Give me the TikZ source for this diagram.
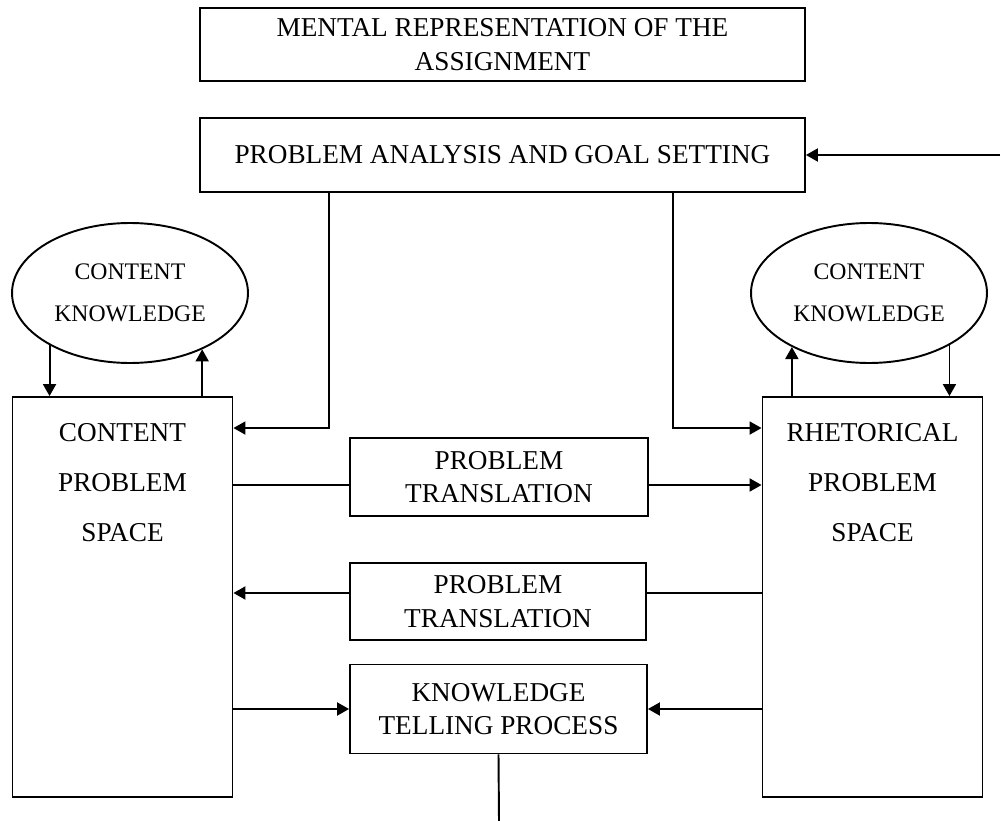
\documentclass[tikz,border=0pt]{standalone}
\usepackage{fontspec}
\setmainfont{Liberation Serif}
\usetikzlibrary{shapes.geometric,arrows.meta,positioning}

\begin{document}
\begin{tikzpicture}[x=0.02cm,y=-0.02cm,
    box/.style={draw,line width=1.1pt,align=center,inner sep=0pt,font=\fontsize{15.5}{19}\selectfont},
    spacebox/.style={draw,line width=1.1pt,minimum width=4.4cm,minimum height=8cm},
    spacetext/.style={align=center,inner sep=0pt,anchor=north,font=\fontsize{15.5}{28.5}\selectfont},
    know/.style={draw,ellipse,line width=1.1pt,minimum width=4.72cm,minimum height=2.8cm,align=center,inner sep=0pt,font=\fontsize{13.5}{24}\selectfont},
    arr/.style={line width=1.1pt,-{Triangle[length=0.24cm,width=0.26cm]}},
    link/.style={line width=1.1pt}]

    \useasboundingbox (0,0) rectangle (1001,821);

    \node[box,minimum width=12.1cm,minimum height=1.46cm] (mental) at (502.5,44.5) {MENTAL REPRESENTATION OF THE\\ASSIGNMENT};
    \node[box,minimum width=12.1cm,minimum height=1.48cm] (analysis) at (502.5,155) {PROBLEM ANALYSIS AND GOAL SETTING};

    \node[know] (ckleft) at (130,293) {CONTENT\\KNOWLEDGE};
    \node[know] (ckright) at (869,293) {CONTENT\\KNOWLEDGE};

    \node[spacebox] (cps) at (122.5,597) {};
    \node[spacetext] (cpstext) at ([yshift=-0.54cm]cps.north) {CONTENT\\PROBLEM\\SPACE};
    \node[spacebox] (rps) at (872.5,597) {};
    \node[spacetext] (rpstext) at ([yshift=-0.54cm]rps.north) {RHETORICAL\\PROBLEM\\SPACE};

    \node[box,minimum width=5.96cm,minimum height=1.56cm] (transone) at (499,477) {PROBLEM\\TRANSLATION};
    \node[box,minimum width=5.92cm,minimum height=1.54cm] (transtwo) at (498,601.5) {PROBLEM\\TRANSLATION};
    \node[box,minimum width=5.94cm,minimum height=1.78cm] (telling) at (498.5,709) {KNOWLEDGE\\TELLING PROCESS};

    \coordinate (feedback) at (1000,155);
    \coordinate (bottom) at (499,821);

    \draw[arr] (feedback) -- (analysis.east);
    \draw[arr] ([xshift=-3.47cm]analysis.south) |- ([yshift=3.38cm]cps.east);
    \draw[arr] ([xshift=3.41cm]analysis.south) |- ([yshift=3.38cm]rps.west);

    \draw[arr] (ckleft.213) -- (ckleft.213 |- cps.north);
    \draw[arr] (ckleft.322 |- cps.north) -- (ckleft.322);
    \draw[arr] (ckright.215 |- rps.north) -- (ckright.215);
    \draw[arr] (ckright.327) -- (ckright.327 |- rps.north);

    \draw[link] ([yshift=-0.16cm]transone.west -| cps.east) -- ([yshift=-0.16cm]transone.west);
    \draw[arr] ([yshift=-0.16cm]transone.east) -- ([yshift=-0.16cm]transone.east -| rps.west);
    \draw[link] ([yshift=0.17cm]transtwo.east -| rps.west) -- ([yshift=0.17cm]transtwo.east);
    \draw[arr] ([yshift=0.17cm]transtwo.west) -- ([yshift=0.17cm]transtwo.west -| cps.east);

    \draw[arr] (telling.west -| cps.east) -- (telling.west);
    \draw[arr] (telling.east -| rps.west) -- (telling.east);
    \draw[link] (telling.south) -- (bottom);

\end{tikzpicture}
\end{document}
